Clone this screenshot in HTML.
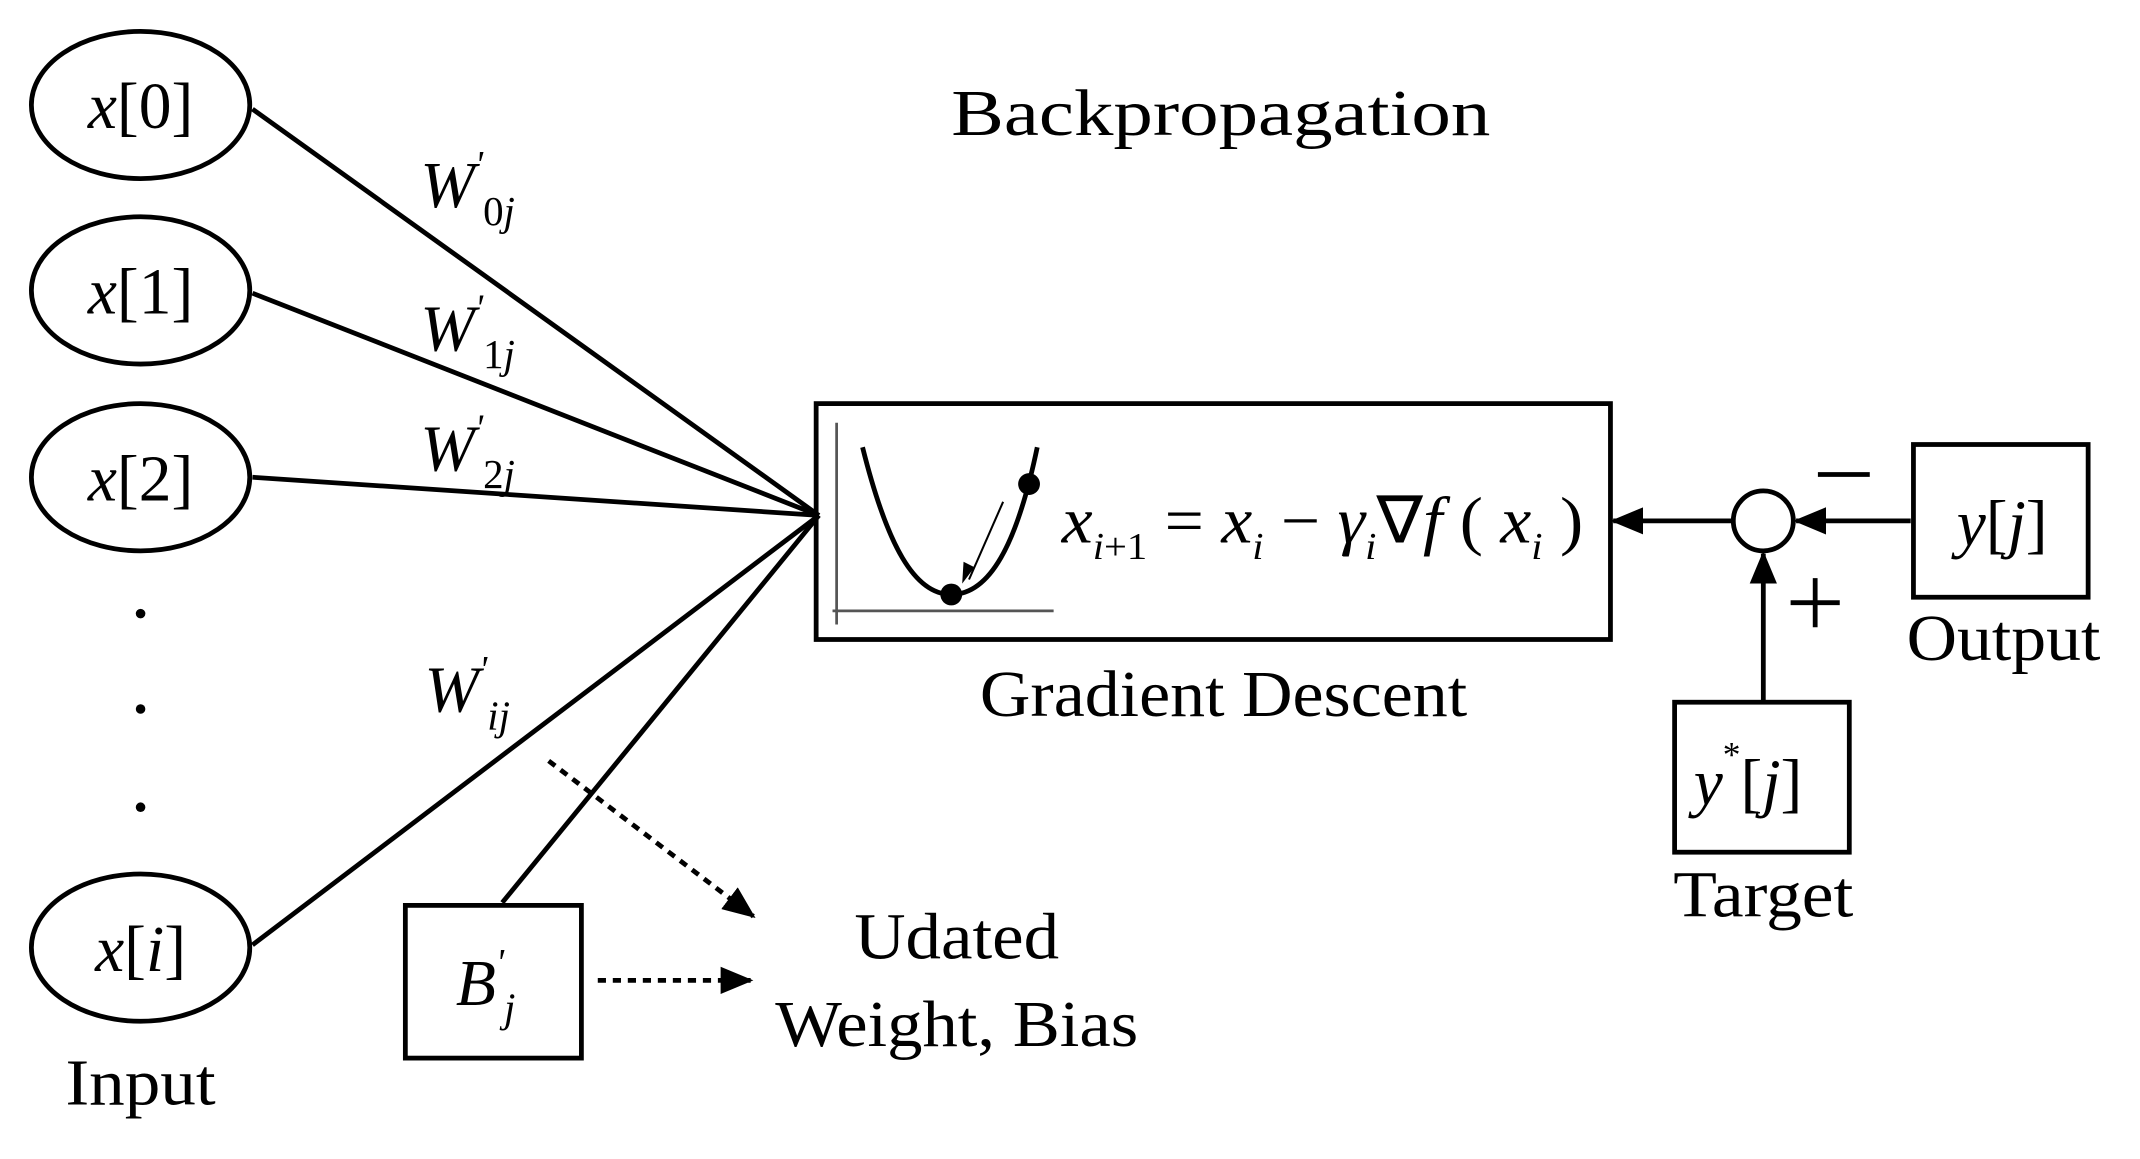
<!DOCTYPE html>
<html><head><style>
html,body{margin:0;padding:0;background:#fff;}
svg{display:block;}
text{font-family:"Liberation Serif",serif;fill:#000;}
</style></head><body>
<svg width="2140" height="1159" viewBox="0 0 1568 850" preserveAspectRatio="none" xmlns="http://www.w3.org/2000/svg">
<defs>
<marker id="ah" markerWidth="24" markerHeight="20" refX="22" refY="10" orient="auto" markerUnits="userSpaceOnUse" viewBox="0 0 24 20"><path d="M0,0 L24,10 L0,20 z" fill="#000"/></marker>
</defs>
<g fill="none" stroke="#000" stroke-width="3.5">
<ellipse cx="103" cy="77" rx="80" ry="54"/>
<ellipse cx="103" cy="213" rx="80" ry="54"/>
<ellipse cx="103" cy="350" rx="80" ry="54"/>
<ellipse cx="103" cy="695" rx="80" ry="54"/>
<line x1="185" y1="80" x2="600" y2="378"/>
<line x1="185" y1="215" x2="600" y2="378"/>
<line x1="185" y1="350" x2="600" y2="378"/>
<line x1="185" y1="693" x2="600" y2="378"/>
<line x1="368" y1="662" x2="600" y2="378"/>
<rect x="598" y="296" width="582" height="173"/>
<rect x="1402" y="326" width="128" height="112"/>
<rect x="1227" y="515" width="128" height="110"/>
<rect x="297" y="664" width="129" height="112"/>
<circle cx="1292" cy="382" r="22"/>
<path d="M632,328 C650,400 670,436 697,436 C725,436 745,400 760,328"/>
</g>
<g stroke="#555" stroke-width="2" fill="none">
<line x1="613" y1="310" x2="613" y2="458"/>
<line x1="610" y1="448" x2="772" y2="448"/>
</g>
<circle cx="697" cy="436" r="8" fill="#000"/>
<circle cx="754" cy="355" r="8" fill="#000"/>
<line x1="735" y1="368" x2="710" y2="425" stroke="#000" stroke-width="1.5"/>
<path d="M705,428 L706,412 L714,416 z" fill="#000"/>
<g fill="#000">
<circle cx="103" cy="450" r="3.5"/><circle cx="103" cy="520" r="3.5"/><circle cx="103" cy="592" r="3.5"/>
</g>
<g stroke="#000" stroke-width="3.5">
<line x1="1270" y1="382" x2="1182" y2="382" marker-end="url(#ah)"/>
<line x1="1400" y1="382" x2="1316" y2="382" marker-end="url(#ah)"/>
<line x1="1292" y1="515" x2="1292" y2="406" marker-end="url(#ah)"/>
<line x1="1332" y1="348" x2="1370" y2="348"/>
<line x1="1312" y1="442" x2="1348" y2="442"/>
<line x1="1330" y1="424" x2="1330" y2="460"/>
<line x1="402" y1="558" x2="552" y2="672" stroke-dasharray="6,5" marker-end="url(#ah)"/>
<line x1="438" y1="719" x2="550" y2="719" stroke-dasharray="6,5" marker-end="url(#ah)"/>
</g>
<g font-size="48" text-anchor="middle">
<text x="103" y="94"><tspan font-style="italic">x</tspan>[0]</text>
<text x="103" y="230"><tspan font-style="italic">x</tspan>[1]</text>
<text x="103" y="367"><tspan font-style="italic">x</tspan>[2]</text>
<text x="103" y="712"><tspan font-style="italic">x</tspan>[<tspan font-style="italic">i</tspan>]</text>
<text x="1467" y="400"><tspan font-style="italic">y</tspan>[<tspan font-style="italic">j</tspan>]</text>
</g>
<g font-size="48">
<text x="697" y="99" textLength="395" lengthAdjust="spacingAndGlyphs">Backpropagation</text>
<text x="718" y="525" textLength="357" lengthAdjust="spacingAndGlyphs">Gradient Descent</text>
<text x="1397" y="484" textLength="142" lengthAdjust="spacingAndGlyphs">Output</text>
<text x="1226" y="672" textLength="132" lengthAdjust="spacingAndGlyphs">Target</text>
<text x="48" y="810" textLength="110" lengthAdjust="spacingAndGlyphs">Input</text>
<text x="626" y="703" textLength="150" lengthAdjust="spacingAndGlyphs">Udated</text>
<text x="568" y="767" textLength="266" lengthAdjust="spacingAndGlyphs">Weight, Bias</text>
</g>
<g font-size="48" font-style="italic">
<text x="308" y="152">W<tspan font-size="28" dy="-22">'</tspan><tspan font-size="30" dy="35" font-style="normal">0</tspan><tspan font-size="30">j</tspan></text>
<text x="308" y="257">W<tspan font-size="28" dy="-22">'</tspan><tspan font-size="30" dy="35" font-style="normal">1</tspan><tspan font-size="30">j</tspan></text>
<text x="308" y="345">W<tspan font-size="28" dy="-22">'</tspan><tspan font-size="30" dy="35" font-style="normal">2</tspan><tspan font-size="30">j</tspan></text>
<text x="311" y="522">W<tspan font-size="28" dy="-22">'</tspan><tspan font-size="30" dy="35">ij</tspan></text>
<text x="334" y="737">B<tspan font-size="28" dy="-22">'</tspan><tspan font-size="30" dy="34">j</tspan></text>
<text x="1241" y="590">y<tspan font-size="26" dy="-28" font-style="normal">*</tspan><tspan dy="28" font-style="normal">[</tspan>j<tspan font-style="normal">]</tspan></text>
<text x="778" y="398" textLength="382" lengthAdjust="spacingAndGlyphs">x<tspan font-size="28" dy="12">i</tspan><tspan font-size="28" font-style="normal">+1</tspan><tspan dy="-12" font-style="normal"> = </tspan>x<tspan font-size="28" dy="12">i</tspan><tspan dy="-12" font-style="normal"> − </tspan>γ<tspan font-size="28" dy="12">i</tspan><tspan dy="-12" font-style="normal">∇</tspan>f<tspan font-style="normal"> ( </tspan>x<tspan font-size="28" dy="12">i</tspan><tspan dy="-12" font-style="normal"> )</tspan></text>
</g>
</svg>
</body></html>
